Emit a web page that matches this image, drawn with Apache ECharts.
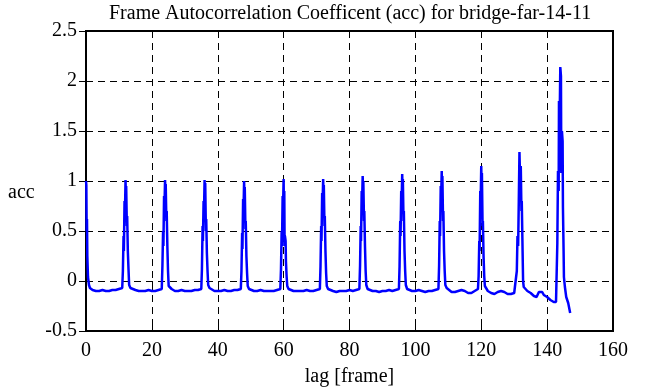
<!DOCTYPE html>
<html>
<head>
<meta charset="utf-8">
<script src="https://cdn.jsdelivr.net/npm/echarts@6/dist/echarts.min.js"></script>
<style>html,body{margin:0;padding:0;background:#fff;}#c{width:656px;height:387px;}</style>
</head>
<body>
<div id="c"></div>
<script>
const titleText = 'Frame Autocorrelation Coefficent (acc) for bridge-far-14-11';
const xName = 'lag [frame]';
const yName = 'acc';
const xTicks = [0, 20, 40, 60, 80, 100, 120, 140, 160];
const yTicks = [-0.5, 0, 0.5, 1, 1.5, 2, 2.5];

const lag = [
  0, 0.1, 0.2, 0.3, 0.4, 0.6, 0.9, 1.2, 2, 3, 4, 5, 6, 7, 8, 9, 10, 11,
  11.2, 11.4, 11.5, 11.7, 11.8, 12, 12.1, 12.2, 12.4, 12.5, 12.7, 12.9, 13.1, 13.5, 14,
  15, 16, 17, 18, 19, 20, 21, 22, 23,
  23.2, 23.4, 23.5, 23.7, 23.8, 24, 24.1, 24.2, 24.4, 24.5, 24.7, 24.9, 25.1, 25.5, 26,
  27, 28, 29, 30, 31, 32, 33, 34, 35,
  35.2, 35.4, 35.5, 35.7, 35.8, 36, 36.1, 36.2, 36.4, 36.5, 36.7, 36.9, 37.1, 37.5, 38,
  39, 40, 41, 42, 43, 44, 45, 46, 47,
  47.2, 47.4, 47.5, 47.7, 47.8, 48, 48.1, 48.2, 48.4, 48.5, 48.7, 48.9, 49.1, 49.5, 50,
  51, 52, 53, 54, 55, 56, 57, 58, 59,
  59.2, 59.4, 59.5, 59.7, 59.8, 60, 60.1, 60.2, 60.3, 60.4, 60.6, 60.7, 60.9, 61.1, 61.5, 62,
  63, 64, 65, 66, 67, 68, 69, 70, 71,
  71.2, 71.4, 71.5, 71.7, 71.8, 72, 72.1, 72.2, 72.4, 72.5, 72.7, 72.9, 73.1, 73.5, 74,
  75, 76, 77, 78, 79, 80, 81, 82, 83,
  83.2, 83.4, 83.5, 83.7, 83.8, 84, 84.1, 84.2, 84.4, 84.5, 84.7, 84.9, 85.1, 85.5, 86,
  87, 88, 89, 90, 91, 92, 93, 94, 95,
  95.2, 95.4, 95.5, 95.7, 95.8, 96, 96.1, 96.2, 96.4, 96.5, 96.7, 96.9, 97.1, 97.5, 98,
  99, 100, 101, 102, 103, 104, 105, 106, 107,
  107.2, 107.4, 107.5, 107.7, 107.8, 108, 108.1, 108.2, 108.4, 108.5, 108.7, 108.9, 109.1, 109.5,
  110, 111, 112, 113, 114, 115, 116, 117, 118, 119,
  119.2, 119.4, 119.5, 119.7, 119.8, 120, 120.1, 120.2, 120.4, 120.5, 120.7, 120.9, 121.1, 121.5,
  122, 123, 124, 125, 126, 127, 128, 129, 130,
  130.8, 131, 131.2, 131.4, 131.6, 131.8, 132, 132.2, 132.3, 132.5, 132.7, 132.9,
  133.5, 134, 135, 136, 136.8, 137.5, 138, 138.5, 139, 139.5, 140, 141, 142, 142.7,
  143, 143.1, 143.3, 143.5, 143.6, 143.8, 144, 144.2, 144.3, 144.5, 144.7, 144.8, 145, 145.1,
  145.4, 145.8, 146, 146.4, 146.6, 147
];

const acc = [
  1.0, 0.96, 0.5, 0.62, 0.25, 0.04, -0.04, -0.07, -0.09, -0.1, -0.1, -0.09, -0.1, -0.1, -0.09, -0.09, -0.08, -0.07,
  0.1, 0.45, 0.3, 0.8, 0.62, 1.01, 0.86, 0.95, 0.55, 0.65, 0.3, 0.12, -0.04, -0.07, -0.08,
  -0.09, -0.1, -0.1, -0.1, -0.09, -0.1, -0.1, -0.09, -0.08,
  0.15, 0.5, 0.35, 0.85, 0.7, 1.01, 0.9, 0.97, 0.6, 0.7, 0.35, 0.1, -0.05, -0.07, -0.08,
  -0.1, -0.1, -0.09, -0.1, -0.1, -0.1, -0.09, -0.09, -0.08,
  0.12, 0.55, 0.4, 0.8, 0.65, 1.01, 0.85, 0.98, 0.5, 0.62, 0.28, 0.1, -0.04, -0.07, -0.09,
  -0.1, -0.1, -0.1, -0.09, -0.1, -0.1, -0.09, -0.09, -0.08,
  0.1, 0.48, 0.32, 0.82, 0.66, 1.0, 0.84, 0.94, 0.52, 0.6, 0.25, 0.08, -0.05, -0.08, -0.09,
  -0.1, -0.1, -0.09, -0.1, -0.1, -0.1, -0.1, -0.09, -0.08,
  0.12, 0.5, 0.35, 0.85, 0.7, 1.02, 0.6, 0.9, 0.35, 0.45, 0.4, 0.2, 0.05, -0.05, -0.08, -0.09,
  -0.1, -0.1, -0.1, -0.1, -0.09, -0.1, -0.1, -0.09, -0.08,
  0.15, 0.55, 0.4, 0.88, 0.72, 1.02, 0.88, 0.96, 0.55, 0.65, 0.3, 0.08, -0.05, -0.08, -0.09,
  -0.1, -0.11, -0.1, -0.1, -0.1, -0.09, -0.1, -0.09, -0.08,
  0.15, 0.55, 0.4, 0.9, 0.75, 1.05, 0.9, 1.0, 0.6, 0.7, 0.35, 0.1, -0.04, -0.08, -0.09,
  -0.1, -0.1, -0.11, -0.1, -0.1, -0.09, -0.1, -0.09, -0.08,
  0.15, 0.6, 0.45, 0.9, 0.75, 1.07, 0.9, 1.02, 0.6, 0.7, 0.3, 0.1, -0.04, -0.08, -0.09,
  -0.1, -0.1, -0.09, -0.1, -0.11, -0.1, -0.1, -0.09, -0.08,
  0.15, 0.6, 0.45, 0.95, 0.8, 1.1, 0.9, 1.05, 0.6, 0.7, 0.3, 0.1, -0.04, -0.07,
  -0.09, -0.11, -0.11, -0.1, -0.09, -0.1, -0.12, -0.12, -0.1, -0.08,
  0.05, 0.4, 0.3, 0.9, 0.75, 1.15, 0.95, 1.08, 0.55, 0.6, 0.25, 0.05, -0.05, -0.07,
  -0.1, -0.12, -0.13, -0.11, -0.1, -0.11, -0.13, -0.13, -0.12,
  0.1, 0.45, 0.35, 0.8, 1.29, 1.0, 1.15, 0.7, 0.8, 0.4, 0.0, -0.06,
  -0.08, -0.1, -0.12, -0.15, -0.16, -0.11, -0.09, -0.11, -0.14, -0.15, -0.16, -0.19, -0.21, -0.21,
  -0.2, 0.38, 1.1, 0.9, 1.8, 1.6, 2.14, 2.05, 1.08, 1.5, 1.4, 0.74, 0.3, 0.04,
  -0.06, -0.16, -0.15, -0.22, -0.24, -0.32
];

const seriesData = lag.map((x, i) => [x, acc[i]]);
const serif = 'Liberation Serif, Times New Roman, serif';

const chart = echarts.init(document.getElementById('c'), null, {renderer: 'canvas'});
const tickStyle = {show: true, inside: true, length: 7, lineStyle: {color: '#000', width: 1}};
const labelStyle = {fontFamily: serif, fontSize: 20, color: '#000'};
chart.setOption({
  animation: false,
  backgroundColor: '#fff',
  title: {
    text: titleText, left: 104, top: -1,
    textStyle: {fontFamily: serif, fontSize: 20, fontWeight: 'normal', color: '#000'}
  },
  graphic: [{
    type: 'text', left: 8, top: 183,
    style: {text: yName, fontFamily: serif, fontSize: 20, fill: '#000'}
  }],
  grid: {left: 86, right: 43, top: 31, bottom: 56, show: true, borderColor: '#000', borderWidth: 2,
    backgroundColor: 'transparent', containLabel: false, outerBoundsMode: 'none'},
  xAxis: [{
    type: 'value', min: xTicks[0], max: xTicks[xTicks.length - 1], interval: 20,
    name: xName, nameLocation: 'middle', nameGap: 36,
    nameTextStyle: {fontFamily: serif, fontSize: 20, color: '#000'},
    axisLine: {show: true, onZero: false, lineStyle: {color: '#000', width: 2}},
    axisTick: tickStyle,
    axisLabel: Object.assign({margin: 10}, labelStyle),
    splitLine: {show: true, lineStyle: {color: '#000', type: [7, 5], width: 1}}
  }, {
    type: 'value', position: 'top', min: xTicks[0], max: xTicks[xTicks.length - 1], interval: 20,
    axisLine: {show: false}, axisTick: tickStyle, axisLabel: {show: false}, splitLine: {show: false}
  }],
  yAxis: [{
    type: 'value', min: yTicks[0], max: yTicks[yTicks.length - 1], interval: 0.5,
    axisLine: {show: true, onZero: false, lineStyle: {color: '#000', width: 2}},
    axisTick: tickStyle,
    axisLabel: Object.assign({margin: 9, formatter: v => String(v)}, labelStyle),
    splitLine: {show: true, lineStyle: {color: '#000', type: [7, 5], width: 1}}
  }, {
    type: 'value', position: 'right', min: yTicks[0], max: yTicks[yTicks.length - 1], interval: 0.5,
    axisLine: {show: false}, axisTick: tickStyle, axisLabel: {show: false}, splitLine: {show: false}
  }],
  series: [{
    type: 'line', data: seriesData, xAxisIndex: 0, yAxisIndex: 0,
    showSymbol: false, symbol: 'none',
    lineStyle: {color: '#0000ff', width: 2.5}
  }]
});
</script>
</body>
</html>
